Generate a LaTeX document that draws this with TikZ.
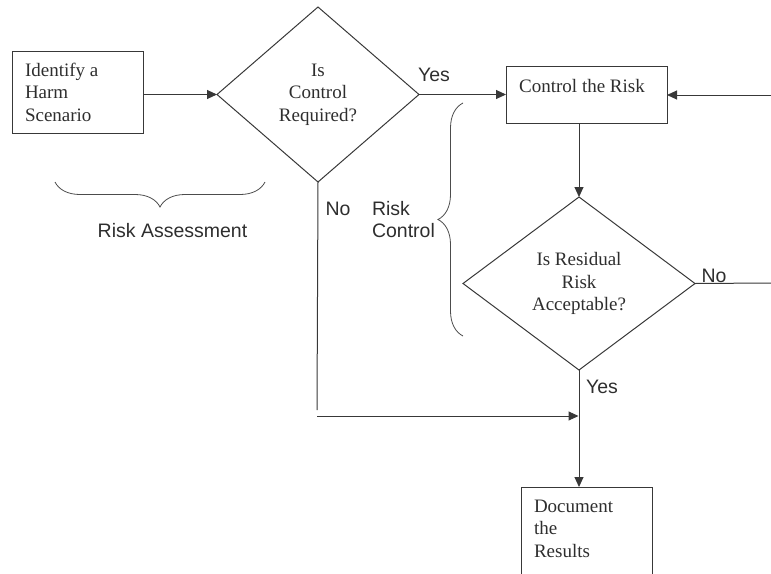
\documentclass[tikz,border=0pt]{standalone}
\usepackage{fontspec}
\setmainfont{Liberation Serif}
\newfontfamily\labelsans{Liberation Sans}
\usetikzlibrary{arrows.meta,shapes.geometric,decorations.pathreplacing}
\newcommand{\serifbig}{\fontsize{19}{22.5}\selectfont}
\newcommand{\sansbig}{\labelsans\fontsize{19.5}{22}\selectfont}
\begin{document}
\begin{tikzpicture}[x=1pt,y=-1pt,
  ink/.style={draw=black!78, line width=1pt},
  boxnode/.style={ink, rectangle, inner sep=0pt, outer sep=0pt},
  decision/.style={ink, diamond, inner sep=0pt, outer sep=0pt, align=center, font=\serifbig, text=black!82},
  stext/.style={inner sep=0pt, outer sep=0pt, text=black!82, font=\serifbig, align=left},
  lab/.style={inner sep=0pt, outer sep=0pt, text=black!82, font=\sansbig},
  flow/.style={ink, -{Triangle[length=10pt,width=9pt]}},
  plainline/.style={ink},
  bracemark/.style={draw=black!70, line width=0.8pt, decorate, decoration={brace, amplitude=25pt}}]
\useasboundingbox (0,0) rectangle (771,573);
\clip (0,0) rectangle (771,573);

% boxes
\node[boxnode, minimum width=131pt, minimum height=82pt] (id) at (77.5,92) {};
\node[stext, anchor=north west] (idt) at (25,63) {Identify a\\Harm\\Scenario};

\node[boxnode, minimum width=161pt, minimum height=57pt] (cr) at (586.5,94.5) {};
\node[stext] (crt) at (582,86) {Control the Risk};

\node[boxnode, minimum width=131pt, minimum height=110pt, anchor=north] (doc) at (586.5,487) {};
\node[stext, anchor=north west] (doct) at (534,500) {Document\\the\\Results};

% decisions
\node[decision, minimum width=202pt, minimum height=175pt] (d1) at (318,94.5) {Is\\Control\\Required?};
\node[decision, minimum width=232pt, minimum height=173pt] (d2) at (579,283.5) {Is Residual\\Risk\\Acceptable?};

% labels
\node[lab] (yes1) at (434,75) {Yes};
\node[lab] (no1) at (338,208.5) {No};
\node[lab, anchor=west, align=left] (rc) at (372,219.5) {Risk\\Control};
\node[lab] (ra) at (172.5,230.5) {Risk Assessment};
\node[lab] (no2) at (714,276) {No};
\node[lab] (yes2) at (602,386.5) {Yes};

% free ends
\coordinate (rin) at (771,95);
\coordinate (rout) at (771,283);
\coordinate (noend) at (317,410);
\coordinate (nostart) at (317,416);
\coordinate (merge) at (578.5,416);
\coordinate (ra1) at (265,182);
\coordinate (ra2) at (55,182);
\coordinate (rc1) at (463,336);
\coordinate (rc2) at (463,103);

% connectors
\draw[flow] (id.east |- d1.west) -- (d1.west);
\draw[flow] (d1.east) -- (d1.east -| cr.west);
\draw[flow] (rin) -- (rin -| cr.east);
\draw[flow] (d2.north |- cr.south) -- (d2.north);
\draw[plainline] (d2.east) -- (rout);
\draw[plainline] (d1.south) -- (noend);
\draw[flow] (nostart) -- (merge);
\draw[flow] (d2.south) -- (d2.south |- doc.north);

% braces
\draw[bracemark] (ra1) -- (ra2);
\draw[bracemark] (rc1) -- (rc2);
\end{tikzpicture}
\end{document}
